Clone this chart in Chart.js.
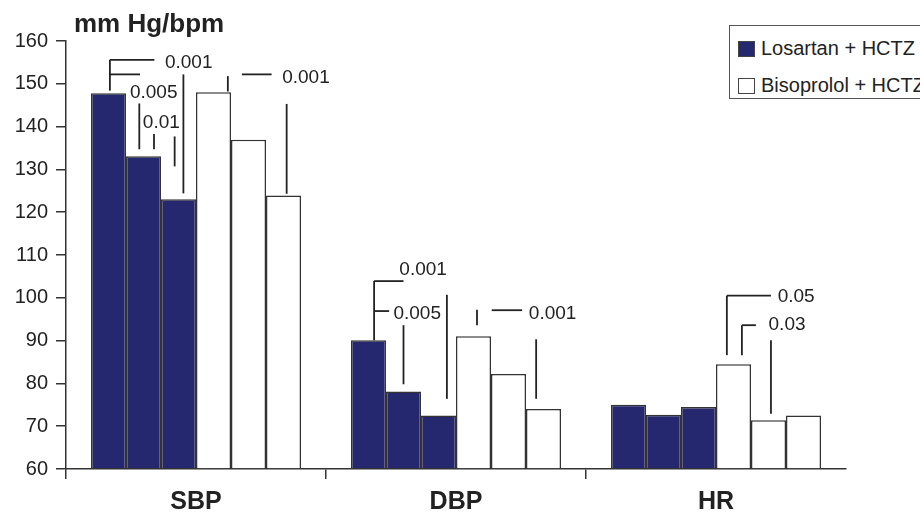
<!DOCTYPE html>
<html>
<head>
<meta charset="utf-8">
<script src="https://cdn.jsdelivr.net/npm/chart.js@4"></script>
<style>
  body { margin: 0; background: #fff; overflow: hidden; }
  #wrap { position: relative; width: 920px; height: 512px; }
  .legend {
    position: absolute; left: 729px; top: 25px; width: 230px; height: 74px;
    border: 1px solid #555; box-sizing: border-box; background: #fff;
    font: 20px "Liberation Sans", Arial, sans-serif; color: #222;
  }
  .item { position: absolute; left: 8px; height: 24px; line-height: 24px; white-space: nowrap; }
  .sw { display: inline-block; width: 17px; height: 16px; vertical-align: -2px; margin-right: 6px; box-sizing: border-box; border: 1px solid #444; }
</style>
</head>
<body>
<div id="wrap">
  <canvas id="chart"></canvas>
  <div class="legend">
    <div class="item" style="top:10px"><span class="sw" style="background:#26286f"></span>Losartan + HCTZ</div>
    <div class="item" style="top:47px"><span class="sw" style="background:#fff"></span>Bisoprolol + HCTZ</div>
  </div>
</div>
<script>
// Values (mm Hg / bpm)
const categories = ['SBP', 'DBP', 'HR'];
const losartanBaseline = [147.8, 90.1, 75.0];
const losartanMid = [133.1, 78.1, 72.7];
const losartanEnd = [123.0, 72.5, 74.5];
const bisoprololBaseline = [148.0, 91.0, 84.5];
const bisoprololMid = [136.9, 82.2, 71.4];
const bisoprololEnd = [123.9, 74.0, 72.5];

const yMin = 60, yMax = 160, yStep = 10;
const yTitle = 'mm Hg/bpm';

// p-value brackets: [category, slotFrom, valueFrom, slotTo, valueTo]
// slot = position within the group of six bars, in bar widths
const pSegments = [
  [0, 0.54, 155.6, 0.54, 148.4],
  [0, 0.54, 155.6, 1.81, 155.6],
  [0, 2.64, 152.2, 2.64, 124.4],
  [0, 0.54, 152.2, 1.40, 152.2],
  [0, 1.38, 145.4, 1.38, 134.7],
  [0, 1.80, 138.3, 1.80, 134.7],
  [0, 2.39, 137.7, 2.39, 130.7],
  [0, 3.91, 151.8, 3.91, 148.2],
  [0, 4.31, 152.2, 5.16, 152.2],
  [0, 5.59, 145.3, 5.59, 124.3],
  [1, 0.66, 103.9, 0.66, 90.1],
  [1, 0.66, 103.9, 1.50, 103.9],
  [1, 2.74, 100.7, 2.74, 76.4],
  [1, 0.66, 96.9, 1.09, 96.9],
  [1, 1.50, 93.6, 1.50, 79.8],
  [1, 3.60, 97.2, 3.60, 93.6],
  [1, 4.02, 97.1, 4.89, 97.1],
  [1, 5.29, 90.3, 5.29, 76.4],
  [2, 3.31, 100.5, 3.31, 86.6],
  [2, 3.31, 100.5, 4.57, 100.5],
  [2, 3.74, 93.6, 3.74, 86.6],
  [2, 3.74, 93.6, 4.14, 93.6],
  [2, 4.57, 90.1, 4.57, 72.9]
];
// [category, slot, value, text]
const pLabels = [
  [0, 2.14, 154.9, '0.001'],
  [0, 1.14, 147.8, '0.005'],
  [0, 1.51, 140.8, '0.01'],
  [0, 5.49, 151.3, '0.001'],
  [1, 1.41, 106.5, '0.001'],
  [1, 1.24, 96.2, '0.005'],
  [1, 5.11, 96.2, '0.001'],
  [2, 4.79, 100.3, '0.05'],
  [2, 4.53, 93.6, '0.03']
];

const navy = '#26286f';
const edge = '#333';
const font = '"Liberation Sans", Arial, sans-serif';

function bar(data, fill) {
  return { data, backgroundColor: fill, borderColor: edge, borderWidth: 1.5, base: yMin };
}

// Draws the title and the p-value brackets
const annotate = {
  id: 'annotate',
  afterDatasetsDraw(chart) {
    const { ctx, chartArea, scales: { y } } = chart;
    const meta = chart.getDatasetMeta(0);
    const slotX = (c, s) => {
      const b = meta.data[c];
      return b.x - b.width / 2 + s * b.width;
    };
    ctx.save();
    ctx.strokeStyle = '#222';
    ctx.lineWidth = 1.8;
    pSegments.forEach(([c, s1, v1, s2, v2]) => {
      ctx.beginPath();
      ctx.moveTo(slotX(c, s1), y.getPixelForValue(v1));
      ctx.lineTo(slotX(c, s2), y.getPixelForValue(v2));
      ctx.stroke();
    });
    ctx.fillStyle = '#222';
    ctx.font = '19px ' + font;
    ctx.textAlign = 'left';
    ctx.textBaseline = 'middle';
    pLabels.forEach(([c, s, v, t]) => {
      ctx.fillText(t, slotX(c, s) - 1, y.getPixelForValue(v));
    });
    ctx.font = 'bold 26px ' + font;
    ctx.textBaseline = 'alphabetic';
    ctx.fillText(yTitle, chartArea.left + 8, chartArea.top - 9);
    ctx.restore();
  }
};

new Chart(document.getElementById('chart'), {
  type: 'bar',
  data: {
    labels: categories,
    datasets: [
      bar(losartanBaseline, navy),
      bar(losartanMid, navy),
      bar(losartanEnd, navy),
      bar(bisoprololBaseline, '#fff'),
      bar(bisoprololMid, '#fff'),
      bar(bisoprololEnd, '#fff')
    ]
  },
  options: {
    responsive: true,
    maintainAspectRatio: false,
    animation: false,
    events: [],
    layout: { padding: { top: 41, right: 74, left: 0, bottom: 0 } },
    datasets: { bar: { categoryPercentage: 0.8077, barPercentage: 1 } },
    plugins: { legend: { display: false }, tooltip: { enabled: false } },
    scales: {
      x: {
        afterFit: s => { s.height = 43; },
        grid: {
          offset: true,
          drawOnChartArea: false,
          tickLength: 10,
          lineWidth: 1.5,
          color: c => (c.type === 'tick' ? edge : 'rgba(0,0,0,0)')
        },
        border: { color: edge, width: 1.5 },
        ticks: { color: '#222', padding: 8, font: { family: font, size: 25, weight: 'bold' } }
      },
      y: {
        min: yMin,
        max: yMax,
        afterFit: s => { s.width = 66; },
        grid: { drawOnChartArea: false, tickLength: 10, lineWidth: 1.5, color: edge },
        border: { color: edge, width: 1.5 },
        ticks: { stepSize: yStep, color: '#222', padding: 8, font: { family: font, size: 20 } }
      }
    }
  },
  plugins: [annotate]
});
</script>
</body>
</html>
